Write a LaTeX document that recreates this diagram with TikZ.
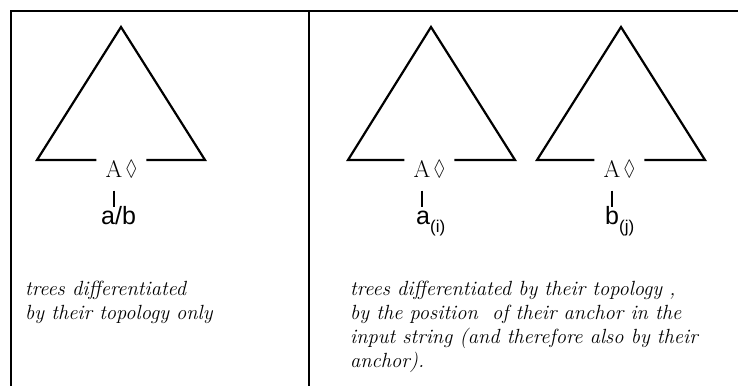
\documentclass[tikz,border=0pt]{standalone}
\usepackage{amssymb}
\usepackage{graphicx}
\usepackage{fontspec}
\newfontfamily\leaffont{Liberation Sans}
\usetikzlibrary{positioning}

\begin{document}
\begin{tikzpicture}[x=1pt, y=-1pt,
	root/.style={inner sep=0pt, font=\fontsize{24}{24}\selectfont},
	leaf/.style={inner sep=0pt, anchor=base west, text height=17pt, font=\leaffont\fontsize{25}{26}\selectfont},
	note/.style={inner sep=0pt, anchor=north west, align=left, font=\itshape\fontsize{20.5}{24}\selectfont},
	tree/.style={line width=2.2pt, line join=miter, shorten <=9pt, shorten >=9pt},
	stem/.style={line width=1.4pt, shorten <=13pt}]
	\useasboundingbox (0, 0) rectangle (738, 386);
	\draw [line width=1.5pt] (738, 11) -- (11, 11) -- (11, 386);
	\draw [line width=1.5pt] (309, 11) -- (309, 386);

	% left panel: one tree
	\coordinate (T1l) at (37, 160);
	\coordinate (T1t) at (121, 27);
	\coordinate (T1r) at (205, 160);
	\node [root] (A1) at (114, 169) {A};
	\node [root, right=3pt of A1] (D1) {\scalebox{0.72}[0.92]{$\lozenge$}};
	\draw [tree] (A1.west |- T1l) -- (T1l) -- (T1t) -- (T1r) -- (D1.east |- T1r);
	\node [leaf] (L1) at (101, 224) {a/b};
	\draw [stem] (A1.south) -- (A1.south |- L1.north);
	\node [note] (N1) at (25, 281) {trees differentiated\\by their topology only};

	% right panel: two trees
	\coordinate (T2l) at (348, 160);
	\coordinate (T2t) at (431, 27);
	\coordinate (T2r) at (515, 160);
	\node [root] (A2) at (422, 169) {A};
	\node [root, right=3pt of A2] (D2) {\scalebox{0.72}[0.92]{$\lozenge$}};
	\draw [tree] (A2.west |- T2l) -- (T2l) -- (T2t) -- (T2r) -- (D2.east |- T2r);
	\node [leaf] (L2) at (416, 224) {a\raisebox{-8pt}{\fontsize{17}{17}\selectfont (i)}};
	\draw [stem] (A2.south) -- (A2.south |- L2.north);

	\coordinate (T3l) at (537, 160);
	\coordinate (T3t) at (621, 27);
	\coordinate (T3r) at (705, 160);
	\node [root] (A3) at (612, 169) {A};
	\node [root, right=3pt of A3] (D3) {\scalebox{0.72}[0.92]{$\lozenge$}};
	\draw [tree] (A3.west |- T3l) -- (T3l) -- (T3t) -- (T3r) -- (D3.east |- T3r);
	\node [leaf] (L3) at (605, 224) {b\raisebox{-8pt}{\fontsize{17}{17}\selectfont (j)}};
	\draw [stem] (A3.south) -- (A3.south |- L3.north);

	\node [note] (N2) at (350, 281) {trees differentiated by their topology ,\\by the position~ of their anchor in the\\input string (and therefore also by their\\anchor).};
\end{tikzpicture}
\end{document}
